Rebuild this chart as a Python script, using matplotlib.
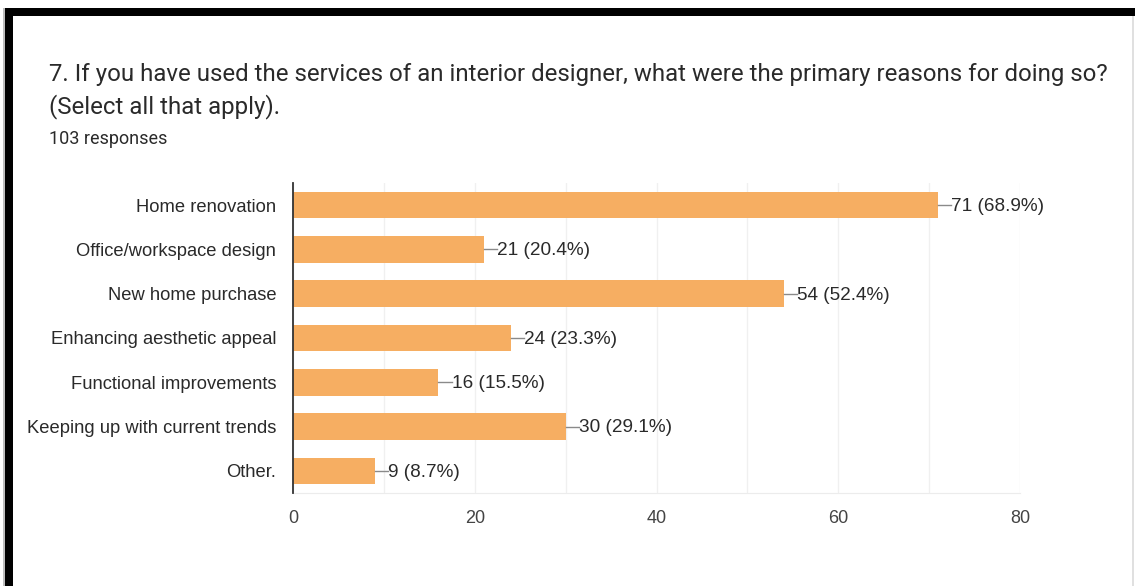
import matplotlib.pyplot as plt
from matplotlib.patches import Rectangle

W, H = 1135, 586

categories = ['Home renovation', 'Office/workspace design', 'New home purchase',
              'Enhancing aesthetic appeal', 'Functional improvements',
              'Keeping up with current trends', 'Other.']
counts = [71, 21, 54, 24, 16, 30, 9]
percents = [68.9, 20.4, 52.4, 23.3, 15.5, 29.1, 8.7]
ticks = [0, 20, 40, 60, 80]

title = ('7. If you have used the services of an interior designer, what were the primary reasons for doing so?\n'
         '(Select all that apply).')
subtitle = '103 responses'

bar_color = '#F6AE62'
text_color = '#2a2a2a'

plt.rcParams['font.family'] = ['Liberation Sans', 'DejaVu Sans']

fig = plt.figure(figsize=(W / 100, H / 100), dpi=100)

# frame around the card: black band on top and left, thin grey edges
def px_rect(x0, y0, x1, y1, color):
    fig.patches.append(Rectangle((x0 / W, 1 - y1 / H), (x1 - x0) / W, (y1 - y0) / H,
                                 transform=fig.transFigure, color=color, lw=0, zorder=0))

px_rect(3, 8, W, 16, 'black')
px_rect(3, 8, 5, H, '#bdbdbd')
px_rect(5, 8, 13, H, 'black')
px_rect(1132, 16, 1134, H, '#e0e0e0')

fig.text(49 / W, 1 - 63 / H, title, fontsize=17.3, family=['Roboto', 'DejaVu Sans'],
         color=text_color, va='top', ha='left', linespacing=1.4)
fig.text(49 / W, 1 - 139 / H, subtitle, fontsize=13, family=['Roboto', 'DejaVu Sans'],
         color=text_color, va='center', ha='left')

ax = fig.add_axes([293 / W, 1 - 493 / H, (1020 - 293) / W, (493 - 183) / H])
y = list(range(len(categories)))
ax.barh(y, counts, height=0.6, color=bar_color, zorder=2)
ax.set_ylim(len(categories) - 0.5, -0.5)
ax.set_xlim(0, 80)

# thin leader line then the value label
for yi, c, p in zip(y, counts, percents):
    ax.plot([c, c + 1.45], [yi, yi], color='#8a8a8a', lw=1, zorder=3)
    ax.text(c + 1.45, yi + 0.03, f'{c} ({p}%)', va='center', ha='left', fontsize=13.7, color=text_color)

ax.set_yticks(y)
ax.set_yticklabels(categories, fontsize=13.2, color=text_color)
ax.set_xticks(ticks)
ax.set_xticklabels([str(t) for t in ticks], fontsize=13, color='#444444')
ax.set_xticks(range(0, 81, 10), minor=True)
ax.tick_params(axis='both', length=0, pad=12)
ax.tick_params(axis='y', pad=12)
ax.tick_params(axis='x', which='minor', length=0)
ax.grid(axis='x', which='both', color='#f0f0f0', lw=1, zorder=0)

for s in ['top', 'right']:
    ax.spines[s].set_visible(False)
ax.spines['bottom'].set_color('#ececec')
ax.spines['left'].set_color('#333333')
ax.spines['left'].set_linewidth(1.3)
ax.spines['left'].set_zorder(4)

fig.savefig('out.png', dpi=100)
